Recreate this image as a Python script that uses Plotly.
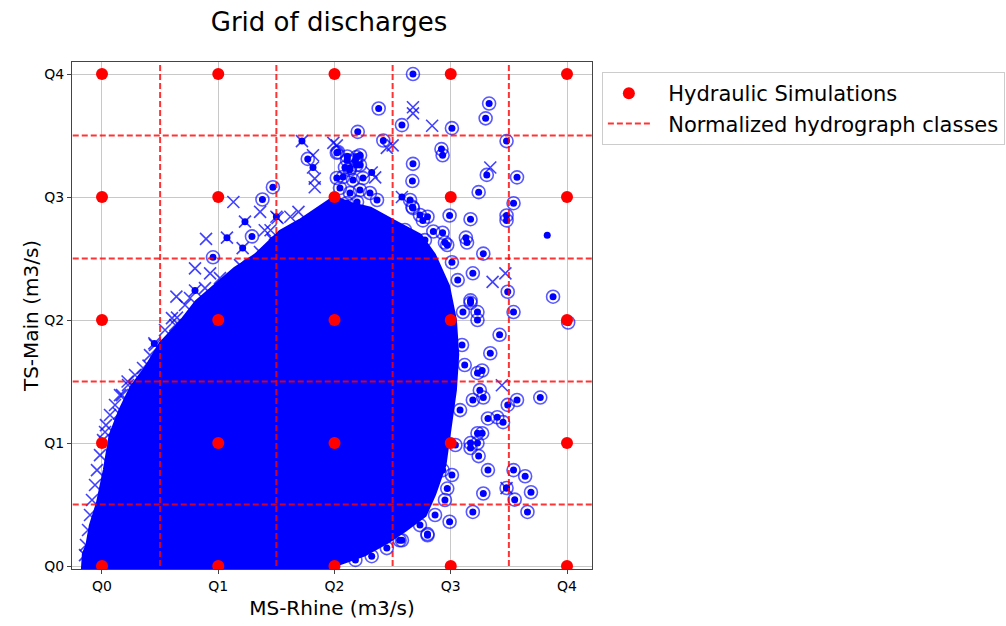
import plotly.graph_objects as go

# ---------------- data ----------------
tick_vals = [0, 1, 2, 3, 4]
tick_labels = ["Q0", "Q1", "Q2", "Q3", "Q4"]

# Hydraulic simulation grid (Q0..Q4 x Q0..Q4)
sim_x = [i for i in tick_vals for _ in tick_vals]
sim_y = [j for _ in tick_vals for j in tick_vals]

# Normalized hydrograph class boundaries
class_bounds = [0.5, 1.5, 2.5, 3.5]

# Outline of the dense cloud of observed discharge pairs
cloud_x = [-0.17, -0.16, -0.13, -0.10, -0.04, 0.02, 0.07, 0.155, 0.25, 0.38, 0.50, 0.67,
           0.81, 0.97, 1.14, 1.32, 1.53, 1.70, 1.86, 2.00, 2.13, 2.31, 2.52, 2.74, 2.86,
           2.98, 3.04, 3.06, 3.04, 2.99, 2.95, 2.86, 2.78, 2.61, 2.46, 2.26, 2.05, 1.88]
cloud_y = [-0.05, 0.10, 0.17, 0.33, 0.51, 0.78, 1.065, 1.27, 1.455, 1.62, 1.81, 1.98,
           2.15, 2.28, 2.42, 2.53, 2.72, 2.81, 2.91, 3.00, 2.95, 2.91, 2.80, 2.69, 2.53,
           2.28, 2.00, 1.72, 1.43, 1.11, 0.82, 0.58, 0.41, 0.29, 0.195, 0.09, 0.02, -0.05]

# Outlying events drawn as circle + dot
ring_x = [2.675, 2.58, 3.01, 3.33, 3.30, 2.42, 3.48, 2.92, 2.93, 2.675, 2.67, 3.31,
          3.57, 3.24, 3.54, 3.48, 3.48, 3.17, 3.13, 2.99, 2.675, 2.80, 2.85, 2.93,
          2.95, 3.28, 3.49, 3.54, 3.88, 4.01, 3.17, 3.23, 3.42, 3.34, 3.27, 3.25,
          3.28, 3.49, 3.57, 3.77, 3.45, 3.32, 3.40, 3.23, 3.27, 3.17, 3.23, 3.24,
          3.17, 3.32, 3.54, 3.64, 3.48, 3.69, 3.28, 3.55, 3.66, 3.19, 2.99, 2.80,
          2.56, 2.45, 1.38, 1.47, 1.29, 0.955, 1.77, 2.02, 2.11, 2.18, 2.09, 2.20,
          2.38, 2.22, 2.76, 2.02, 2.13, 2.19, 2.97, 3.14, 3.19, 3.17, 3.23, 3.105,
          3.23, 3.19, 2.82, 2.93, 2.97, 2.80, 2.58, 2.67,
          2.03, 2.108, 2.19, 2.133, 2.219, 2.073, 2.159, 2.245, 2.047, 2.133, 2.219,
          2.305, 2.366, 2.108, 2.194, 2.65, 2.735, 2.606, 2.778, 2.692,
          3.01, 3.06, 3.097, 3.12, 3.08, 3.04, 3.01, 2.95, 2.865, 2.735, 2.32, 2.18]
ring_y = [4.00, 3.585, 3.56, 3.76, 3.64, 3.46, 3.455, 3.39, 3.34, 3.27, 3.13, 3.18,
          3.16, 3.04, 2.95, 2.85, 2.81, 2.82, 2.67, 2.85, 2.91, 2.84, 2.72, 2.71,
          2.63, 2.54, 2.23, 2.065, 2.19, 1.98, 2.14, 2.065, 1.88, 1.73, 1.59, 1.43,
          1.37, 1.31, 1.35, 1.37, 1.17, 1.20, 1.21, 1.08, 1.08, 1.00, 1.00, 0.894,
          0.96, 0.78, 0.78, 0.73, 0.634, 0.60, 0.59, 0.54, 0.44, 0.44, 0.36, 0.25,
          0.21, 0.146, 2.98, 3.08, 2.68, 2.51, 3.31, 3.36, 3.33, 3.30, 3.24, 3.53,
          3.72, 3.34, 2.81, 3.155, 3.22, 3.26, 2.61, 2.63, 2.38, 2.16, 2.00, 2.065,
          1.57, 1.35, 0.86, 0.78, 0.63, 0.26, 0.21, 2.92,
          3.366, 3.30, 3.325, 3.236, 3.26, 3.163, 3.138, 3.154, 3.073, 3.033, 3.057,
          3.033, 2.976, 2.951, 2.959, 2.976, 2.854, 2.732, 2.65, 2.569,
          2.47, 2.325, 1.797, 1.634, 1.268, 0.984, 0.74, 0.537, 0.415, 0.333, 0.08, 0.05]

# Outlying events drawn as cross + dot
xdot_x = [1.23, 1.075, 1.47, 1.21, 0.80, 1.72, 1.815, 2.32, 1.50, 2.58, 0.45, 3.48]
xdot_y = [2.80, 2.67, 2.65, 2.585, 2.24, 3.455, 3.24, 3.20, 2.84, 3.00, 1.81, 0.634]

# Outlying events drawn as cross only
cross_x = [2.675, 2.675, 2.84, 2.50, 3.34, 3.36, 3.47, 3.44, 1.13, 0.895, 1.40, 0.80,
           0.93, 0.64, 0.645, 1.36, 1.51, 1.62, 1.815, 1.83, 1.83, 2.02, 2.35, 1.69,
           1.99, 2.45, 0.63, 0.40, 0.28, 0.146, 0.026, 0.22, 0.155, 1.45,
           0.714, 0.602, 0.542, 0.456, 0.413, 0.353, 0.284, 0.224, 0.172, 0.112, 0.069,
           0.034, 0.009, -0.017, -0.043, -0.060, -0.086, -0.103, -0.120, -0.138, -0.146,
           0.757, 0.886, 1.015, 1.187, 1.359, 1.488, 1.617]
cross_y = [3.73, 3.68, 3.58, 3.42, 3.24, 2.31, 2.38, 1.47, 2.96, 2.66, 2.73, 2.42,
           2.38, 2.19, 2.02, 2.88, 2.83, 2.84, 3.34, 3.15, 3.08, 3.42, 3.16, 2.88,
           3.44, 3.40, 1.96, 1.63, 1.455, 1.24, 1.09, 1.50, 1.39, 2.73,
           2.122, 2.016, 1.919, 1.797, 1.715, 1.610, 1.553, 1.472, 1.390, 1.309, 1.228,
           1.146, 1.024, 0.902, 0.780, 0.659, 0.537, 0.415, 0.293, 0.171, 0.089,
           2.179, 2.260, 2.341, 2.447, 2.553, 2.610, 2.691]

# Single dots
dot_x = [3.83]
dot_y = [2.69]

# ---------------- figure ----------------
x_range = [-0.258, 4.215]
y_range = [-0.024, 4.098]

BLUE = "#0000ff"
fig = go.Figure()

fig.add_trace(go.Scatter(x=cloud_x, y=cloud_y, mode="lines", fill="toself",
                         fillcolor=BLUE, line=dict(color=BLUE, width=3),
                         showlegend=False, hoverinfo="skip"))
fig.add_trace(go.Scatter(x=ring_x, y=ring_y, mode="markers", showlegend=False,
                         marker=dict(symbol="circle-open", size=13,
                                     color="rgba(0,0,255,0.65)",
                                     line=dict(width=1.6))))
fig.add_trace(go.Scatter(x=cross_x + xdot_x, y=cross_y + xdot_y, mode="markers",
                         showlegend=False,
                         marker=dict(symbol="x-thin-open", size=12,
                                     color="rgba(0,0,255,0.75)",
                                     line=dict(width=1.6))))
fig.add_trace(go.Scatter(x=ring_x + xdot_x + dot_x, y=ring_y + xdot_y + dot_y,
                         mode="markers", showlegend=False,
                         marker=dict(symbol="circle", size=7, color=BLUE,
                                     line=dict(width=0))))

# class boundary lines
lx, ly = [], []
for b in class_bounds:
    lx += [b, b, None]
    ly += [y_range[0] - 1, y_range[1] + 1, None]
for b in class_bounds:
    lx += [x_range[0] - 1, x_range[1] + 1, None]
    ly += [b, b, None]
fig.add_trace(go.Scatter(x=lx, y=ly, mode="lines",
                         name="\u00a0\u00a0Normalized hydrograph classes",
                         line=dict(color="rgba(255,0,0,0.8)", width=2, dash="6px,3px"),
                         legendrank=2))

fig.add_trace(go.Scatter(x=sim_x, y=sim_y, mode="markers",
                         name="\u00a0\u00a0Hydraulic Simulations",
                         marker=dict(color="#ff0000", size=12, line=dict(width=0)),
                         legendrank=1))

FONT = "DejaVu Sans"
fig.update_layout(
    width=1006, height=626,
    margin=dict(l=72, r=414, t=62, b=57, autoexpand=False),
    paper_bgcolor="white", plot_bgcolor="white",
    font=dict(family=FONT, color="black", size=14),
    title=dict(text="Grid of discharges", x=(329 / 1006), xanchor="center",
               y=1 - 22 / 626, yanchor="middle", font=dict(size=26, family=FONT)),
    legend=dict(x=1.019, y=0.98, xanchor="left", yanchor="top",
                bordercolor="#cccccc", borderwidth=1, bgcolor="white",
                font=dict(size=21, family=FONT), itemwidth=42,
                traceorder="normal"),
    showlegend=True,
)
fig.update_xaxes(range=x_range, tickvals=tick_vals, ticktext=tick_labels,
                 showgrid=True, gridcolor="#c8c8c8", gridwidth=1, zeroline=False,
                 showline=True, linecolor="#444444", linewidth=1, mirror=True,
                 ticks="outside", ticklen=4, tickcolor="#444444",
                 tickfont=dict(size=14),
                 title=dict(text="MS-Rhine (m3/s)", font=dict(size=20), standoff=8))
fig.update_yaxes(range=y_range, tickvals=tick_vals, ticktext=tick_labels,
                 showgrid=True, gridcolor="#c8c8c8", gridwidth=1, zeroline=False,
                 showline=True, linecolor="#444444", linewidth=1, mirror=True,
                 ticks="outside", ticklen=4, tickcolor="#444444",
                 tickfont=dict(size=14),
                 title=dict(text="TS-Main (m3/s)", font=dict(size=20), standoff=0))

fig.write_html("out.html", config={"displayModeBar": False},
               post_script="document.body.style.margin='0';document.body.style.overflow='hidden';")
